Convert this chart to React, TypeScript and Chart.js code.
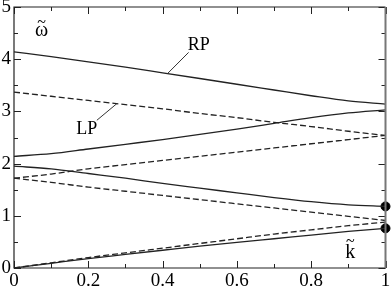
import React, { useEffect, useRef } from "react";
import { Chart, registerables } from "chart.js";

Chart.register(...registerables);

// wave number k~ (x axis)
const kValues = [0, 0.1, 0.2, 0.3, 0.4, 0.5, 0.6, 0.7, 0.8, 0.9, 1.0];

// solid branches (RP)
const rpBranch1 = [4.14, 4.05, 3.95, 3.85, 3.74, 3.63, 3.52, 3.41, 3.3, 3.2, 3.14];
const rpBranch2 = [2.14, 2.19, 2.28, 2.37, 2.46, 2.56, 2.66, 2.77, 2.88, 2.97, 3.03];
const rpBranch3 = [1.95, 1.9, 1.81, 1.72, 1.62, 1.53, 1.44, 1.35, 1.27, 1.21, 1.18];
const rpBranch4 = [0, 0.09, 0.18, 0.26, 0.34, 0.42, 0.49, 0.56, 0.63, 0.7, 0.76];

// dashed branches (LP)
const lpBranch1 = [3.37, 3.29, 3.21, 3.13, 3.05, 2.96, 2.88, 2.79, 2.71, 2.62, 2.54];
const lpBranch2 = [1.72, 1.8, 1.9, 1.98, 2.06, 2.14, 2.22, 2.3, 2.38, 2.46, 2.54];
const lpBranch3 = [1.72, 1.64, 1.55, 1.47, 1.39, 1.31, 1.23, 1.15, 1.07, 0.99, 0.91];
const lpBranch4 = [0, 0.1, 0.2, 0.29, 0.38, 0.47, 0.56, 0.65, 0.73, 0.81, 0.88];

// end-point markers
const markerK = [1, 1];
const markerW = [1.18, 0.76];

// axis ticks
const xMajorStep = 0.2;
const xMinorStep = 0.1;
const yMajorStep = 1;
const yMinorStep = 0.5;

// annotations (data coordinates)
const rpLabel = { text: "RP", x: 0.497, y: 4.27, lx1: 0.47, ly1: 4.13, lx2: 0.414, ly2: 3.73 };
const lpLabel = { text: "LP", x: 0.196, y: 2.65, lx1: 0.223, ly1: 2.83, lx2: 0.277, ly2: 3.15 };
const yAxisTitle = { text: "\u03C9", x: 0.074, y: 4.55 };
const xAxisTitle = { text: "k", x: 0.905, y: 0.29 };

const SERIF = "'Liberation Serif', 'Times New Roman', serif";
const LINE = "#222";

function toPts(ys: number[]) {
  return kValues.map((k, i) => ({ x: k, y: ys[i] }));
}

const framePlugin = {
  id: "frame",
  afterDatasetsDraw(chart: any) {
    const { ctx, chartArea, scales } = chart;
    const xs = scales.x;
    const ys = scales.y;
    const { left, right, top, bottom } = chartArea;
    ctx.save();
    // ticks
    ctx.strokeStyle = "#222";
    ctx.lineWidth = 1;
    const nx = Math.round(1 / xMinorStep);
    for (let i = 0; i <= nx; i++) {
      const v = i * xMinorStep;
      const major = Math.abs(v / xMajorStep - Math.round(v / xMajorStep)) < 1e-6;
      const len = major ? 7 : 4;
      const px = Math.round(xs.getPixelForValue(v)) + 0.5;
      ctx.beginPath();
      ctx.moveTo(px, bottom);
      ctx.lineTo(px, bottom - len);
      ctx.moveTo(px, top);
      ctx.lineTo(px, top + len);
      ctx.stroke();
    }
    const ny = Math.round(5 / yMinorStep);
    for (let i = 0; i <= ny; i++) {
      const v = i * yMinorStep;
      const major = Math.abs(v / yMajorStep - Math.round(v / yMajorStep)) < 1e-6;
      const len = major ? 7 : 4;
      const py = Math.round(ys.getPixelForValue(v)) + 0.5;
      ctx.beginPath();
      ctx.moveTo(left, py);
      ctx.lineTo(left + len, py);
      ctx.moveTo(right, py);
      ctx.lineTo(right - len, py);
      ctx.stroke();
    }
    // frame
    ctx.strokeStyle = "#222";
    ctx.lineWidth = 1.2;
    ctx.beginPath();
    ctx.moveTo(right, top);
    ctx.lineTo(left, top);
    ctx.lineTo(left, bottom);
    ctx.lineTo(right, bottom);
    ctx.stroke();
    ctx.strokeStyle = "#777";
    ctx.lineWidth = 2;
    ctx.beginPath();
    ctx.moveTo(right, top);
    ctx.lineTo(right, bottom);
    ctx.stroke();

    // annotations
    ctx.strokeStyle = "#333";
    ctx.lineWidth = 1;
    ctx.fillStyle = "#000";
    ctx.font = "18px " + SERIF;
    ctx.textAlign = "center";
    ctx.textBaseline = "middle";
    for (const a of [rpLabel, lpLabel]) {
      ctx.beginPath();
      ctx.moveTo(xs.getPixelForValue(a.lx1), ys.getPixelForValue(a.ly1));
      ctx.lineTo(xs.getPixelForValue(a.lx2), ys.getPixelForValue(a.ly2));
      ctx.stroke();
      ctx.fillText(a.text, xs.getPixelForValue(a.x), ys.getPixelForValue(a.y));
    }
    // axis titles with a tilde accent drawn above the symbol
    ctx.font = "20px " + SERIF;
    for (const a of [yAxisTitle, xAxisTitle]) {
      const px = xs.getPixelForValue(a.x);
      const py = ys.getPixelForValue(a.y);
      ctx.fillText(a.text, px, py);
      ctx.font = "16px " + SERIF;
      ctx.fillText("~", px, py - (a.text === "k" ? 11 : 8));
      ctx.font = "20px " + SERIF;
    }
    ctx.restore();
  },
};

function fmt(v: number) {
  return String(Number(v.toFixed(1)));
}

export default function App() {
  const ref = useRef<HTMLCanvasElement | null>(null);
  useEffect(() => {
    document.body.style.margin = "0";
    const canvas = ref.current;
    if (!canvas) return;
    const solid = (ys: number[]) => ({
      data: toPts(ys),
      borderColor: LINE,
      borderWidth: 1.3,
      pointRadius: 0,
      cubicInterpolationMode: "monotone" as const,
      fill: false,
    });
    const dashed = (ys: number[]) => ({
      ...solid(ys),
      borderDash: [6, 3],
    });
    const chart = new Chart(canvas, {
      type: "line",
      data: {
        datasets: [
          solid(rpBranch1),
          solid(rpBranch2),
          solid(rpBranch3),
          solid(rpBranch4),
          dashed(lpBranch1),
          dashed(lpBranch2),
          dashed(lpBranch3),
          dashed(lpBranch4),
          {
            type: "scatter" as any,
            data: markerK.map((k, i) => ({ x: k, y: markerW[i] })),
            pointRadius: 4.5,
            pointBackgroundColor: "#000",
            pointBorderColor: "#000",
            showLine: false,
            clip: false as any,
          } as any,
        ],
      },
      options: {
        responsive: false,
        animation: false,
        devicePixelRatio: 1,
        layout: { padding: { top: 7, right: 5, left: 0, bottom: 0 } },
        plugins: { legend: { display: false }, tooltip: { enabled: false } },
        scales: {
          x: {
            type: "linear",
            min: 0,
            max: 1,
            grid: { display: false, drawTicks: false },
            border: { display: false },
            ticks: {
              stepSize: xMajorStep,
              padding: 2,
              color: "#000",
              maxRotation: 0,
              autoSkip: false,
              font: { family: SERIF, size: 19 },
              callback: (v: any) => fmt(Number(v)),
            },
            afterFit(s: any) {
              s.height = 20;
              s.paddingLeft = 0;
              s.paddingRight = 0;
            },
          },
          y: {
            type: "linear",
            min: 0,
            max: 5,
            grid: { display: false, drawTicks: false },
            border: { display: false },
            ticks: {
              stepSize: yMajorStep,
              padding: 3,
              color: "#000",
              autoSkip: false,
              font: { family: SERIF, size: 19 },
              callback: (v: any) => fmt(Number(v)),
            },
            afterFit(s: any) {
              s.width = 14;
              s.paddingTop = 0;
              s.paddingBottom = 0;
            },
          },
        },
      },
      plugins: [framePlugin],
    });
    return () => chart.destroy();
  }, []);
  return (
    <div style={{ position: "absolute", left: 0, top: 0, width: 391, height: 288, background: "#fff" }}>
      <canvas ref={ref} width={391} height={288} style={{ width: 391, height: 288 }} />
    </div>
  );
}
